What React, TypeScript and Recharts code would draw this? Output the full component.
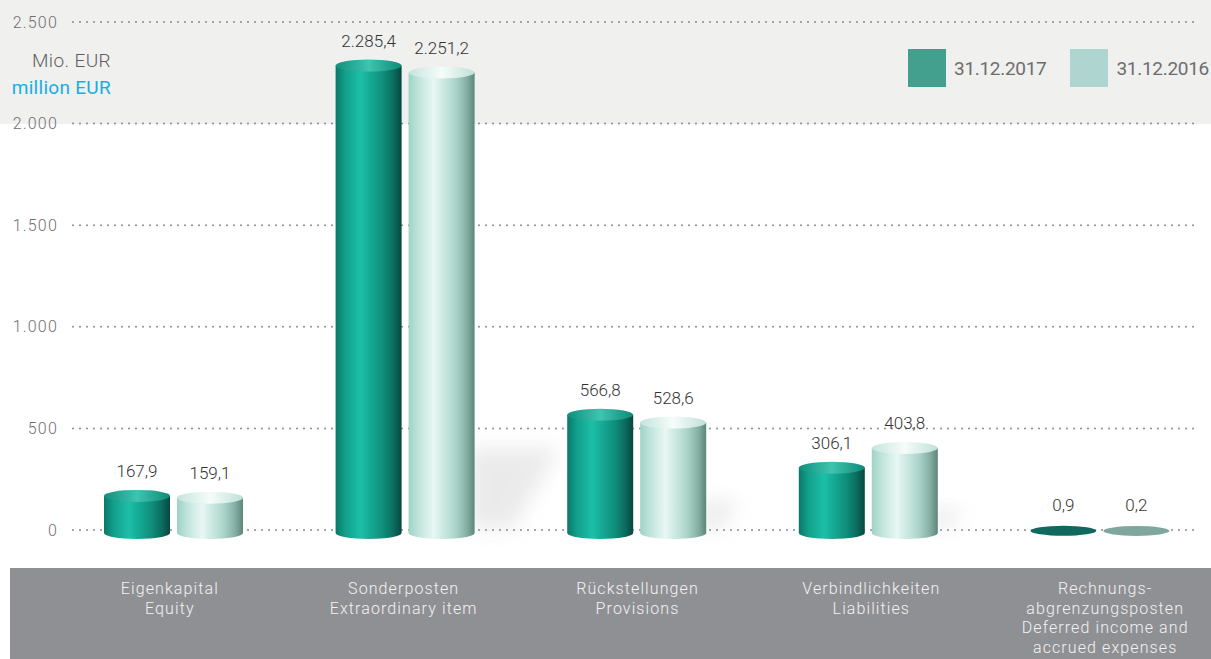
import React from "react";
import { BarChart, Bar, XAxis, YAxis, CartesianGrid, LabelList } from "recharts";

// Bilanz Passiva, Mio. EUR
const categoriesDe = [["Eigenkapital"], ["Sonderposten"], ["Rückstellungen"], ["Verbindlichkeiten"], ["Rechnungs-", "abgrenzungsposten"]];
const categoriesEn = [["Equity"], ["Extraordinary item"], ["Provisions"], ["Liabilities"], ["Deferred income and", "accrued expenses"]];
const values2017 = [167.9, 2285.4, 566.8, 306.1, 0.9];
const values2016 = [159.1, 2251.2, 528.6, 403.8, 0.2];
const seriesNames = ["31.12.2017", "31.12.2016"];
const yTicks = [0, 500, 1000, 1500, 2000, 2500];

const data = categoriesDe.map((de, i) => ({
  idx: i,
  y2017: values2017[i],
  y2016: values2016[i],
}));

const FONT = "Roboto, 'Noto Sans', sans-serif";

const thousands = (n: number) => String(n).replace(/\B(?=(\d{3})+(?!\d))/g, ".");
const fmtTick = (v: number) => thousands(v);
const fmtValue = (v: number) => {
  const [a, b] = v.toFixed(1).split(".");
  return thousands(Number(a)) + "," + b;
};

const palettes: Record<string, { side: string[]; top: string[]; flat: string }> = {
  dark: {
    side: ["#0b7869", "#12a08c", "#1cbfa8", "#15ab95", "#0f8e7c", "#0b6b5f", "#07463f"],
    top: ["#10907d", "#3ec4b0", "#0f8a78"],
    flat: "#11695e",
  },
  light: {
    side: ["#9fd2c5", "#bfe4db", "#e9f7f3", "#cdeae2", "#a9d3c8", "#86afa4", "#5c857b"],
    top: ["#c4e5dc", "#f6fcfa", "#bfe0d7"],
    flat: "#80a79c",
  },
};
const sideOffsets = [0, 0.15, 0.38, 0.52, 0.72, 0.88, 1];

function Cylinder(props: any) {
  const { x, y, width, height, variant } = props;
  const pal = palettes[variant];
  const rx = width / 2;
  const ry = 6;
  const cx = x + rx;
  const bottom = y + height + 3;
  const sid = `side-${variant}`;
  const tid = `top-${variant}`;
  const flat = height < 3;
  const sh = Math.min(height * 0.3, 85);
  return (
    <g>
      <defs>
        <linearGradient id={sid} x1="0" y1="0" x2="1" y2="0">
          {pal.side.map((c, i) => (
            <stop key={i} offset={sideOffsets[i]} stopColor={c} />
          ))}
        </linearGradient>
        <linearGradient id={tid} x1="0" y1="0" x2="1" y2="0">
          {pal.top.map((c, i) => (
            <stop key={i} offset={i / 2} stopColor={c} />
          ))}
        </linearGradient>
        <filter id="shadow-blur" x="-50%" y="-50%" width="200%" height="200%">
          <feGaussianBlur stdDeviation="10" />
        </filter>
      </defs>
      {variant === "light" && !flat && (
        <polygon
          points={`${x + width - 6},${bottom - 4} ${x + width - 6},${bottom - sh} ${x + width + sh},${bottom - sh} ${x + width + sh * 0.45},${bottom - 4}`}
          fill="#9a9a9a"
          opacity={0.2}
          filter="url(#shadow-blur)"
        />
      )}
      {flat ? (
        <ellipse cx={cx} cy={y + 1} rx={rx} ry={5} fill={pal.flat} />
      ) : (
        <>
          <path
            d={`M${x},${y} L${x},${bottom} A${rx},${ry} 0 0 0 ${x + width},${bottom} L${x + width},${y} Z`}
            fill={`url(#${sid})`}
          />
          <ellipse cx={cx} cy={y} rx={rx} ry={ry} fill={`url(#${tid})`} />
        </>
      )}
    </g>
  );
}

function ValueLabel(props: any) {
  const { x, y, width, value } = props;
  return (
    <text
      x={x + width / 2}
      y={y - 19}
      textAnchor="middle"
      fontFamily={FONT}
      fontSize={17}
      fontWeight={300}
      fill="#333"
    >
      {fmtValue(value)}
    </text>
  );
}

function CategoryTick(props: any) {
  const { x, payload } = props;
  const lines = [...categoriesDe[payload.value], ...categoriesEn[payload.value]];
  const cx = x - 4 + payload.value * 2.25;
  return (
    <text textAnchor="middle" fontFamily={FONT} fontSize={16} fontWeight={300} fill="#f2f2f2" letterSpacing={1.1}>
      {lines.map((l, i) => (
        <tspan key={i} x={cx} y={594 + i * 19.5}>
          {l}
        </tspan>
      ))}
    </text>
  );
}

function GridLine(props: any) {
  const { y1 } = props;
  return (
    <line
      x1={73}
      x2={1200}
      y1={y1}
      y2={y1}
      stroke="#8a8a8a"
      strokeWidth={2}
      strokeLinecap="round"
      strokeDasharray="0 7"
    />
  );
}

export default function App() {
  return (
    <div
      style={{
        position: "fixed",
        left: 0,
        top: 0,
        width: 1211,
        height: 659,
        overflow: "hidden",
        background: "#ffffff",
        fontFamily: FONT,
      }}
    >
      <div style={{ position: "absolute", left: 0, top: 0, width: 1211, height: 124, background: "#f0f0ef" }} />
      <div style={{ position: "absolute", left: 10, top: 568, width: 1201, height: 91, background: "#8f9094" }} />
      <div
        style={{
          position: "absolute",
          right: 1100,
          top: 47,
          textAlign: "right",
          fontSize: 19,
          lineHeight: "27px",
          whiteSpace: "nowrap",
          fontWeight: 300,
        }}
      >
        <div style={{ color: "#5e5e5e", letterSpacing: 0.4 }}>Mio. EUR</div>
        <div style={{ color: "#18ade6", fontWeight: 400, letterSpacing: 0.3 }}>million EUR</div>
      </div>
      <div style={{ position: "absolute", left: 908, top: 49, display: "flex", alignItems: "center" }}>
        {seriesNames.map((n, i) => (
          <div key={n} style={{ display: "flex", alignItems: "center", marginRight: i === 0 ? 24 : 0 }}>
            <div style={{ width: 38, height: 38, background: i === 0 ? "#43a08f" : "#afd5d1" }} />
            <span style={{ marginLeft: 8, fontSize: 19, color: "#6d6d6d", letterSpacing: -0.3 }}>{n}</span>
          </div>
        ))}
      </div>
      <div style={{ position: "absolute", left: 0, top: 0 }}>
        <BarChart
          width={1216}
          height={659}
          data={data}
          margin={{ top: 22, right: 0, bottom: 0, left: 0 }}
          barSize={66}
          barGap={7}
        >
          <CartesianGrid vertical={false} horizontal={(p: any) => <GridLine key={p.key ?? p.index} {...p} />} />
          <XAxis dataKey="idx" height={129} axisLine={false} tickLine={false} tick={<CategoryTick />} interval={0} />
          <YAxis
            width={58}
            domain={[0, 2500]}
            ticks={yTicks}
            axisLine={false}
            tickLine={false}
            tickSize={0}
            tickMargin={0}
            tickFormatter={fmtTick}
            tick={{ fontFamily: FONT, fontSize: 16, fontWeight: 300, fill: "#6f6f6f", letterSpacing: 1.2 }}
          />
          <Bar dataKey="y2017" name={seriesNames[0]} isAnimationActive={false} shape={(p: any) => <Cylinder {...p} variant="dark" />}>
            <LabelList dataKey="y2017" content={<ValueLabel />} />
          </Bar>
          <Bar dataKey="y2016" name={seriesNames[1]} isAnimationActive={false} shape={(p: any) => <Cylinder {...p} variant="light" />}>
            <LabelList dataKey="y2016" content={<ValueLabel />} />
          </Bar>
        </BarChart>
      </div>
    </div>
  );
}
